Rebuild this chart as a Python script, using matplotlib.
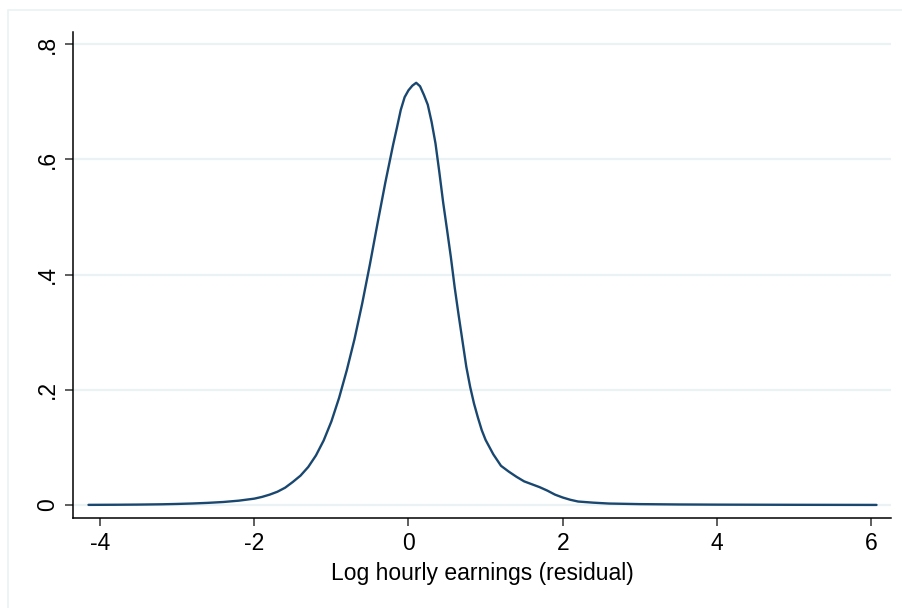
import matplotlib
matplotlib.use("Agg")
import matplotlib.pyplot as plt
from matplotlib.patches import Rectangle

plt.rcParams['font.family'] = ['Liberation Sans', 'DejaVu Sans']

# Kernel density of log hourly earnings residuals
resid = [-4.15, -3.8, -3.5, -3.2, -3.0, -2.8, -2.6, -2.4, -2.2, -2.0, -1.9, -1.8,
         -1.7, -1.6, -1.5, -1.4, -1.3, -1.2, -1.1, -1.0, -0.9, -0.8, -0.7, -0.6,
         -0.5, -0.4, -0.3, -0.2, -0.15, -0.1, -0.05, 0.0, 0.05, 0.1, 0.15, 0.2,
         0.25, 0.3, 0.35, 0.4, 0.45, 0.5, 0.55, 0.6, 0.65, 0.7, 0.75, 0.8, 0.85,
         0.9, 0.95, 1.0, 1.1, 1.2, 1.3, 1.4, 1.5, 1.6, 1.7, 1.8, 1.9, 2.0, 2.1,
         2.2, 2.4, 2.6, 3.0, 3.5, 4.0, 5.0, 6.07]
density = [0.0002, 0.0004, 0.0007, 0.0012, 0.0018, 0.0026, 0.0037, 0.0052,
           0.0075, 0.011, 0.014, 0.018, 0.023, 0.030, 0.040, 0.051, 0.066,
           0.086, 0.112, 0.145, 0.186, 0.234, 0.288, 0.350, 0.418, 0.490,
           0.560, 0.625, 0.655, 0.686, 0.708, 0.720, 0.728, 0.733, 0.727,
           0.712, 0.695, 0.665, 0.628, 0.578, 0.525, 0.478, 0.430, 0.377,
           0.330, 0.285, 0.240, 0.205, 0.176, 0.152, 0.130, 0.113, 0.088,
           0.068, 0.058, 0.049, 0.041, 0.036, 0.031, 0.025, 0.018, 0.013,
           0.009, 0.006, 0.004, 0.0025, 0.0015, 0.0009, 0.0006, 0.0003, 0.0001]

x_ticks = [-4, -2, 0, 2, 4, 6]
x_labels = ["-4", "-2", "0", "2", "4", "6"]
y_ticks = [0, 0.2, 0.4, 0.6, 0.8]
y_labels = ["0", ".2", ".4", ".6", ".8"]

fig = plt.figure(figsize=(9.03, 6.08), dpi=100)
fig.patch.set_facecolor("white")

# light outer frame
fig.patches.append(Rectangle((8 / 903, -0.01), 1.0, 1 - 10 / 608 + 0.01,
                             transform=fig.transFigure, fill=False,
                             edgecolor="#eaf2f3", linewidth=1.2, zorder=0))

ax = fig.add_axes([73 / 903, 1 - 518 / 608, (891 - 73) / 903, (518 - 32) / 608])
ax.set_xlim(-4.351, 6.258)
ax.set_ylim(-0.0226, 0.8212)

for yv in y_ticks:
    ax.axhline(yv, color="#eaf2f3", linewidth=1.6, zorder=1)

ax.plot(resid, density, color="#1a476f", linewidth=1.7, zorder=3,
        solid_joinstyle="round", solid_capstyle="round")

for side in ("top", "right"):
    ax.spines[side].set_visible(False)
for side in ("left", "bottom"):
    ax.spines[side].set_linewidth(1.1)
    ax.spines[side].set_color("black")

ax.set_xticks(x_ticks)
ax.set_xticklabels(x_labels)
ax.set_yticks(y_ticks)
ax.set_yticklabels(y_labels, rotation=90, va="center")
ax.tick_params(axis="both", direction="out", length=6, width=1.1,
               color="#333333", labelsize=16.5, pad=4)
ax.set_xlabel("Log hourly earnings (residual)", fontsize=16.5, labelpad=5)

fig.savefig("out.png", dpi=100, facecolor="white")
